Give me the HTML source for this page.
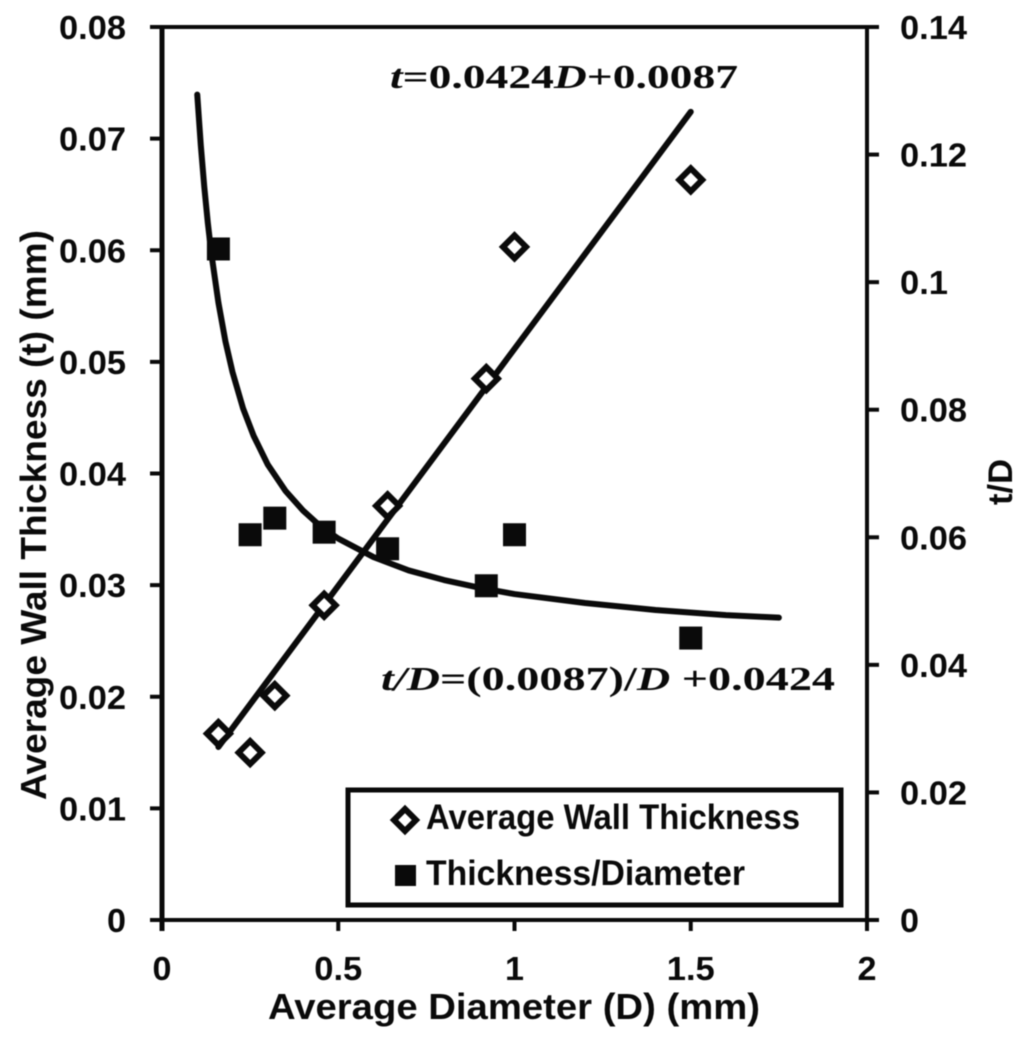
<!DOCTYPE html>
<html lang="en">
<head>
<meta charset="utf-8">
<title>Wall thickness vs diameter</title>
<style>
  html, body { margin: 0; padding: 0; background: #fff; }
  #chart { display: block; filter: blur(0.6px); }
  .lbl { font-family: "Liberation Sans", sans-serif; font-weight: 700; fill: #0a0a0a; }
  .eq { font-family: "Liberation Serif", serif; font-weight: 700; fill: #0a0a0a; }
  .eq .v { font-style: italic; }
</style>
</head>
<body>
<svg id="chart" xmlns="http://www.w3.org/2000/svg" width="1024" height="1040" viewBox="0 0 1024 1040">
  <rect x="0" y="0" width="1024" height="1040" fill="#fff"/>
  <g id="axes"></g>
  <g id="series"></g>

  <text class="lbl" x="268" y="1019" font-size="36" textLength="492" lengthAdjust="spacingAndGlyphs">Average Diameter (D) (mm)</text>
  <text class="lbl" transform="translate(46,800) rotate(-90)" font-size="36" textLength="570" lengthAdjust="spacingAndGlyphs">Average Wall Thickness (t) (mm)</text>
  <text class="lbl" transform="translate(1012,505) rotate(-90)" font-size="34" textLength="46" lengthAdjust="spacingAndGlyphs">t/D</text>

  <text class="eq" x="390" y="88" font-size="34" textLength="348" lengthAdjust="spacingAndGlyphs"><tspan class="v">t</tspan>=0.0424<tspan class="v">D</tspan>+0.0087</text>
  <text class="eq" x="381" y="690" font-size="34" textLength="454" lengthAdjust="spacingAndGlyphs"><tspan class="v">t/D</tspan>=(0.0087)/<tspan class="v">D</tspan> +0.0424</text>

  <g>
    <rect x="348" y="790" width="493" height="115" fill="#fff" stroke="#0a0a0a" stroke-width="5"/>
    <polygon points="405,809 416,820 405,831 394,820" fill="#fff" stroke="#0a0a0a" stroke-width="6"/>
    <text class="lbl" x="426" y="829" font-size="35" textLength="374" lengthAdjust="spacingAndGlyphs">Average Wall Thickness</text>
    <rect x="395" y="865" width="21" height="21" fill="#0a0a0a"/>
    <text class="lbl" x="426" y="885" font-size="35" textLength="319" lengthAdjust="spacingAndGlyphs">Thickness/Diameter</text>
  </g>
</svg>
<script>
// Chart data
const diameters = [0.16, 0.25, 0.32, 0.46, 0.64, 0.92, 1.0, 1.5];
const wallThickness = [0.0167, 0.0150, 0.0201, 0.0282, 0.0371, 0.0485, 0.0603, 0.0663];
const thicknessRatio = [0.1052, 0.0604, 0.0630, 0.0608, 0.0582, 0.0524, 0.0604, 0.0442];

const linearFitD = [0.16, 1.5];
const linearFitT = [0.0155, 0.0724];

const ratioFitD = [0.10, 0.11, 0.12, 0.13, 0.14, 0.16, 0.18, 0.20, 0.23, 0.26, 0.30, 0.35, 0.40, 0.45, 0.50, 0.60, 0.70, 0.80, 0.90, 1.00, 1.20, 1.40, 1.60, 1.75];
const ratioFitR = [0.1294, 0.1215, 0.1149, 0.1093, 0.1045, 0.0968, 0.0907, 0.0859, 0.0802, 0.0759, 0.0714, 0.0673, 0.0642, 0.0617, 0.0598, 0.0569, 0.0548, 0.0533, 0.0521, 0.0511, 0.0497, 0.0486, 0.0478, 0.0474];

const xTicks = [0, 0.5, 1, 1.5, 2];
const xTickLabels = ['0', '0.5', '1', '1.5', '2'];
const leftTicks = [0, 0.01, 0.02, 0.03, 0.04, 0.05, 0.06, 0.07, 0.08];
const leftTickLabels = ['0', '0.01', '0.02', '0.03', '0.04', '0.05', '0.06', '0.07', '0.08'];
const rightTicks = [0, 0.02, 0.04, 0.06, 0.08, 0.1, 0.12, 0.14];
const rightTickLabels = ['0', '0.02', '0.04', '0.06', '0.08', '0.1', '0.12', '0.14'];

const plot = { left: 162, right: 867, top: 27, bottom: 920 };
const xMax = 2, leftMax = 0.08, rightMax = 0.14;

function xScale(v) { return plot.left + (v / xMax) * (plot.right - plot.left); }
function yLeft(v) { return plot.bottom - (v / leftMax) * (plot.bottom - plot.top); }
function yRight(v) { return plot.bottom - (v / rightMax) * (plot.bottom - plot.top); }
function labelWidth(s) { return s.length === 1 ? 19 : (s.length - 1) * 19 + 10; }

const NS = 'http://www.w3.org/2000/svg';
function make(parent, tag, attrs, text) {
  const el = document.createElementNS(NS, tag);
  for (const k in attrs) el.setAttribute(k, attrs[k]);
  if (text !== undefined) el.textContent = text;
  parent.appendChild(el);
  return el;
}

const axes = document.getElementById('axes');
const series = document.getElementById('series');
const ink = '#0a0a0a';

// Axis spines
let spine = make(axes, 'line', { x1: plot.left, y1: plot.top, x2: plot.left, y2: plot.bottom + 11, stroke: ink, 'stroke-width': 5 });


spine = make(axes, 'line', { x1: plot.right, y1: plot.top, x2: plot.right, y2: plot.bottom + 11, stroke: ink, 'stroke-width': 4 });


spine = make(axes, 'line', { x1: plot.left - 12, y1: plot.top, x2: plot.right + 12, y2: plot.top, stroke: ink, 'stroke-width': 4 });


spine = make(axes, 'line', { x1: plot.left - 12, y1: plot.bottom, x2: plot.right + 12, y2: plot.bottom, stroke: ink, 'stroke-width': 4 });



// X ticks and labels
xTicks.forEach(function (v, i) {
  const t = make(axes, 'line', { x1: xScale(v), y1: plot.bottom, x2: xScale(v), y2: plot.bottom + 11, stroke: ink, 'stroke-width': 4 });
  
  
  const l = make(axes, 'text', { class: 'lbl', x: xScale(v), y: plot.bottom + 60, 'font-size': 33, 'text-anchor': 'middle', textLength: labelWidth(xTickLabels[i]), lengthAdjust: 'spacingAndGlyphs' }, xTickLabels[i]);
  
  
});

// Left ticks and labels
leftTicks.forEach(function (v, i) {
  const t = make(axes, 'line', { x1: plot.left - 12, y1: yLeft(v), x2: plot.left, y2: yLeft(v), stroke: ink, 'stroke-width': 4 });
  
  
  const l = make(axes, 'text', { class: 'lbl', x: 126, y: yLeft(v) + 12, 'font-size': 33, 'text-anchor': 'end', textLength: labelWidth(leftTickLabels[i]), lengthAdjust: 'spacingAndGlyphs' }, leftTickLabels[i]);
  
  
});

// Right ticks and labels
rightTicks.forEach(function (v, i) {
  const t = make(axes, 'line', { x1: plot.right, y1: yRight(v), x2: plot.right + 12, y2: yRight(v), stroke: ink, 'stroke-width': 4 });
  
  
  const l = make(axes, 'text', { class: 'lbl', x: 900, y: yRight(v) + 12, 'font-size': 33, textLength: labelWidth(rightTickLabels[i]), lengthAdjust: 'spacingAndGlyphs' }, rightTickLabels[i]);
  
  
});

// Trend lines
const linearPts = linearFitD.map(function (d, i) { return xScale(d) + ',' + yLeft(linearFitT[i]); }).join(' ');
const linearLine = make(series, 'polyline', { points: linearPts, fill: 'none', stroke: ink, 'stroke-width': 6, 'stroke-linecap': 'round' });



const ratioPts = ratioFitD.map(function (d, i) { return xScale(d) + ',' + yRight(ratioFitR[i]); }).join(' ');
const ratioLine = make(series, 'polyline', { points: ratioPts, fill: 'none', stroke: ink, 'stroke-width': 6, 'stroke-linecap': 'round', 'stroke-linejoin': 'round' });



// Markers
const dHalf = 11.5;
diameters.forEach(function (d, i) {
  const cx = xScale(d), cy = yLeft(wallThickness[i]);
  const pts = [cx + ',' + (cy - dHalf), (cx + dHalf) + ',' + cy, cx + ',' + (cy + dHalf), (cx - dHalf) + ',' + cy].join(' ');
  const m = make(series, 'polygon', { points: pts, fill: '#fff', stroke: ink, 'stroke-width': 6 });
  
  
});

const sq = 23;
diameters.forEach(function (d, i) {
  const cx = xScale(d), cy = yRight(thicknessRatio[i]);
  const m = make(series, 'rect', { x: cx - sq / 2, y: cy - sq / 2, width: sq, height: sq, fill: ink });
  
  
});
</script>
</body>
</html>
